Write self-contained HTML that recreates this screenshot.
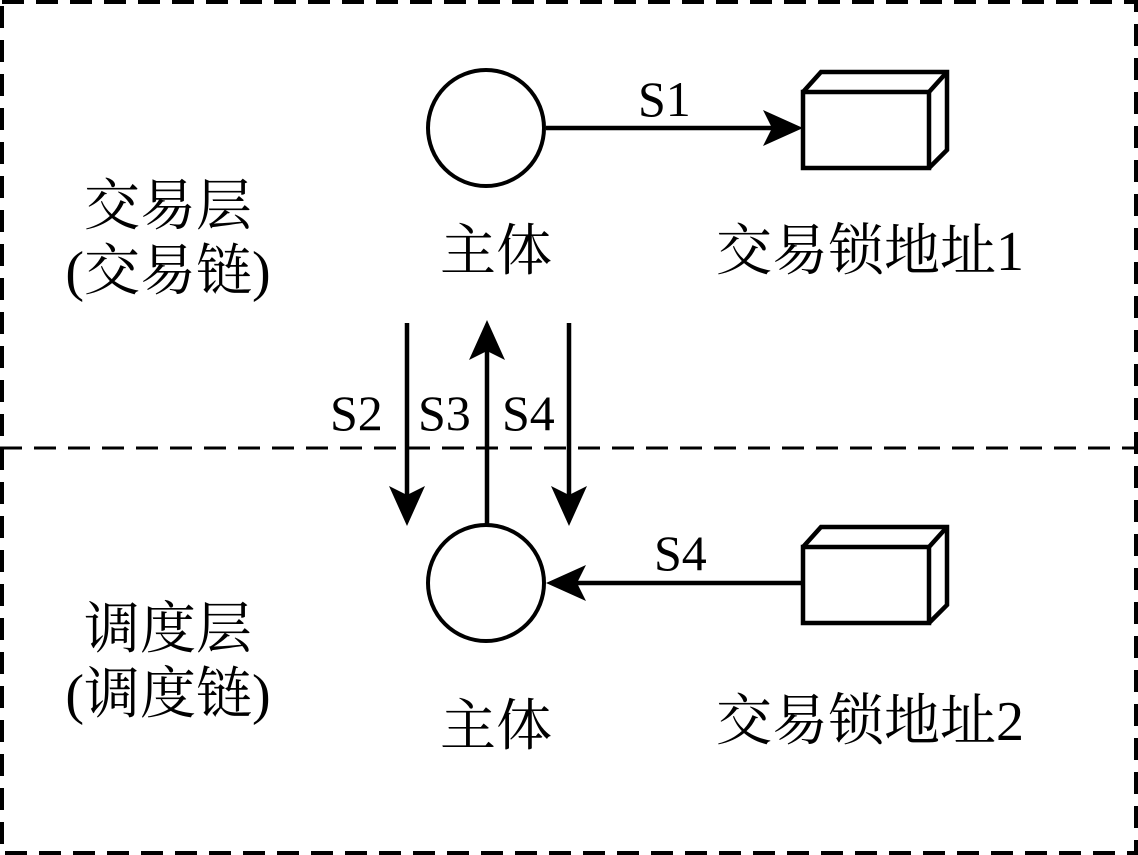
<!DOCTYPE html>
<html><head><meta charset="utf-8"><style>
html,body{margin:0;padding:0;background:#fff;}
svg{display:block}
.l{font-family:'Liberation Serif','Times New Roman',serif;}
.c{font-family:'Noto Serif CJK SC','Noto Serif CJK TC','Noto Sans CJK SC',serif;}
</style></head><body>
<svg width="1138" height="855" viewBox="0 0 1138 855" xmlns="http://www.w3.org/2000/svg">
<rect x="2" y="2" width="1134" height="851" fill="none" stroke="#000" stroke-width="4" stroke-dasharray="22,12"/>
<line x1="0" y1="448" x2="1138" y2="448" stroke="#000" stroke-width="3" stroke-dasharray="22,12"/>
<circle cx="486" cy="128" r="58" fill="none" stroke="#000" stroke-width="4"/>
<circle cx="486" cy="583" r="58" fill="none" stroke="#000" stroke-width="4"/>
<g fill="none" stroke="#000" stroke-width="4.5" stroke-linejoin="miter">
<rect x="803" y="92" width="126" height="76"/>
<polyline points="803,92 821,72 947,72 947,150 929,168"/>
<line x1="929" y1="92" x2="947" y2="72"/>
<rect x="803" y="547" width="126" height="76"/>
<polyline points="803,547 821,527 947,527 947,605 929,623"/>
<line x1="929" y1="547" x2="947" y2="527"/>
<line x1="546" y1="128" x2="780" y2="128"/>
<line x1="803" y1="583" x2="570" y2="583"/>
<line x1="407" y1="323" x2="407" y2="500"/>
<line x1="487" y1="525" x2="487" y2="345"/>
<line x1="569" y1="323" x2="569" y2="500"/>
</g>
<polygon points="803,128 763,110 772,128 763,146"/>
<polygon points="546,583 586,565 577,583 586,601"/>
<polygon points="407,526 389,486 407,495 425,486"/>
<polygon points="569,526 551,486 569,495 587,486"/>
<polygon points="487,320 469,360 487,351 505,360"/>
<g font-size="50" class="l">
<text x="638" y="116" class="l">S1</text>
<text x="330" y="430" class="l">S2</text>
<text x="418" y="430" class="l">S3</text>
<text x="502" y="430" class="l">S4</text>
<text x="654" y="570" class="l">S4</text>
</g>
<g font-size="56">
<text x="168" y="225" text-anchor="middle" class="c">交易层</text>
<text x="168" y="290" text-anchor="middle"><tspan class="l">(</tspan><tspan class="c">交易链</tspan><tspan class="l">)</tspan></text>
<text x="168" y="648" text-anchor="middle" class="c">调度层</text>
<text x="168" y="713" text-anchor="middle"><tspan class="l">(</tspan><tspan class="c">调度链</tspan><tspan class="l">)</tspan></text>
<text x="496" y="270" text-anchor="middle" class="c">主体</text>
<text x="496" y="745" text-anchor="middle" class="c">主体</text>
<text x="870" y="270" text-anchor="middle"><tspan class="c">交易锁地址</tspan><tspan class="l">1</tspan></text>
<text x="870" y="740" text-anchor="middle"><tspan class="c">交易锁地址</tspan><tspan class="l">2</tspan></text>
</g>
</svg>
</body></html>
